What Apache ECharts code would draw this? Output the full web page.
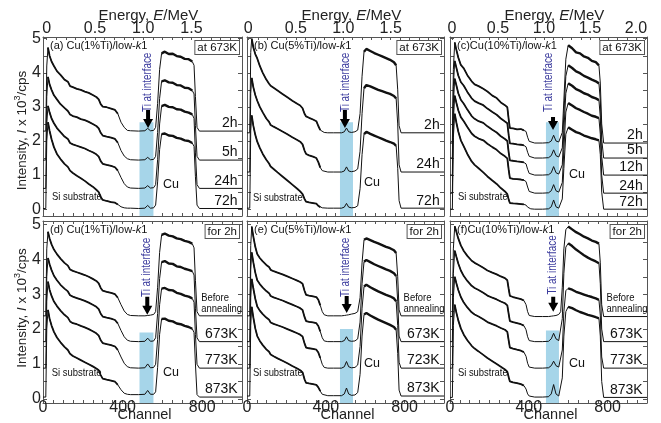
<!DOCTYPE html>
<html>
<head>
<meta charset="utf-8">
<script src="https://cdn.jsdelivr.net/npm/echarts@6/dist/echarts.min.js"></script>
<style>
html,body{margin:0;padding:0;background:#fff;}
#chart{width:661px;height:423px;}
</style>
</head>
<body>
<div id="chart"></div>
<script>
// ---- channel grids (one per column of panels) ----
const chAD = [0,14,19,25,33,43,55,70,88,108,125,136,150,170,190,210,230,250,268,280,290,300,320,342,362,376,392,408,424,440,480,512,526,540,556,566,576,586,596,612,632,652,672,692,712,732,750,759,766,774,786,1000];
const chBE = [0,14,19,24,32,42,52,65,80,98,112,120,135,155,180,205,230,255,270,282,292,300,315,335,352,362,372,382,392,410,440,480,494,505,516,530,548,562,574,584,594,606,626,646,666,686,706,726,746,757,765,772,782,1000];
const chCF = [0,12,17,24,32,42,55,70,88,110,125,145,169,190,215,237,258,279,291,298,304,320,340,360,375,386,394,402,410,430,470,500,514,526,538,552,562,570,578,588,600,620,640,660,680,700,720,740,756,763,770,780,1000];

// ---- (a) Cu(1%Ti)/low-k1, 673K ----
const a2h  = [2.29,2.29,4.2,4.74,4.5,4.33,4.2,4.05,3.94,3.80, 3.74,3.61,3.58,3.53,3.50,3.45,3.41,3.35,3.29,3.22, 3.08,3.01,2.99,2.95,2.91,2.80,2.55,2.40,2.31,2.30, 2.29,2.30,2.37,2.30,2.31,2.40,3.1,4.1,4.57,4.62, 4.55,4.56,4.49,4.47,4.41,4.40,4.33,4.22,3.3,2.4, 2.29,2.29];
const a5h  = [1.44,1.44,3.3,3.88,3.66,3.50,3.34,3.22,3.08,2.97, 2.88,2.78,2.73,2.70,2.64,2.61,2.56,2.50,2.44,2.37, 2.24,2.16,2.13,2.10,2.06,1.95,1.72,1.56,1.48,1.45, 1.44,1.45,1.52,1.45,1.46,1.55,2.25,3.25,3.75,3.78, 3.72,3.71,3.64,3.63,3.56,3.55,3.48,3.38,2.45,1.55, 1.44,1.44];
const a24h = [0.61,0.61,2.5,3.03,2.84,2.66,2.52,2.38,2.26,2.13, 2.06,1.94,1.90,1.86,1.82,1.78,1.72,1.67,1.61,1.54, 1.41,1.33,1.30,1.27,1.23,1.13,0.93,0.75,0.65,0.62, 0.61,0.62,0.69,0.62,0.63,0.72,1.45,2.5,3.02,3.06, 3.0,2.99,2.93,2.92,2.86,2.83,2.78,2.66,1.65,0.72, 0.61,0.61];
const a72h = [0.02,0.02,2.0,2.55,2.3,2.05,1.82,1.62,1.47,1.33, 1.24,1.13,1.06,0.98,0.91,0.83,0.74,0.66,0.57,0.50, 0.36,0.27,0.24,0.21,0.19,0.14,0.07,0.04,0.03,0.03, 0.02,0.03,0.11,0.03,0.04,0.12,0.8,1.75,2.2,2.22, 2.16,2.15,2.09,2.07,2.02,2.0,1.94,1.84,0.95,0.12, 0.02,0.02];

// ---- (b) Cu(5%Ti)/low-k1, 673K ----
const b2h  = [2.24,2.24,4.6,5.0,4.75,4.55,4.42,4.20,4.00,3.80, 3.68,3.62,3.56,3.48,3.38,3.28,3.18,3.09,3.04,2.96, 2.80,2.72,2.68,2.63,2.58,2.44,2.32,2.27,2.25,2.24, 2.24,2.24,2.27,2.38,2.27,2.25,2.27,2.32,2.8,3.9, 4.62,4.70,4.64,4.58,4.53,4.48,4.43,4.38,4.31,4.22, 3.5,2.45,2.24,2.24];
const b24h = [1.09,1.09,3.4,3.85,3.58,3.35,3.18,3.0,2.84,2.66, 2.56,2.47,2.42,2.36,2.28,2.20,2.11,2.03,1.98,1.90, 1.72,1.62,1.58,1.54,1.50,1.38,1.22,1.13,1.10,1.09, 1.09,1.09,1.12,1.24,1.12,1.10,1.12,1.18,1.7,2.8, 3.55,3.64,3.60,3.55,3.50,3.46,3.42,3.38,3.32,3.25, 2.5,1.3,1.09,1.09];
const b72h = [0.03,0.03,2.3,2.75,2.45,2.18,1.98,1.80,1.62,1.45, 1.34,1.25,1.18,1.08,0.96,0.84,0.72,0.60,0.52,0.44, 0.30,0.22,0.20,0.18,0.16,0.10,0.06,0.04,0.03,0.03, 0.03,0.03,0.06,0.17,0.06,0.04,0.05,0.1,0.6,1.6, 2.2,2.27,2.21,2.16,2.11,2.06,2.01,1.97,1.92,1.86, 1.2,0.25,0.03,0.03];

// ---- (c) Cu(10%Ti)/low-k1, 673K ----
const c2h  = [1.94,1.94,4.1,4.89,4.68,4.45,4.23,4.13,3.93,3.75, 3.66,3.61,3.53,3.45,3.33,3.26,3.13,3.05,2.99,2.63, 2.38,2.37,2.34,2.35,2.31,2.28,2.11,1.99,1.95,1.94, 1.94,1.95,2.0,2.17,2.0,1.97,1.99,2.25,3.2,4.4, 4.81,4.72,4.60,4.57,4.48,4.44,4.35,4.31,4.22,3.7, 2.5,1.94,1.94];
const c5h  = [1.5,1.5,3.6,4.35,4.16,3.92,3.73,3.62,3.44,3.25, 3.17,3.11,3.05,2.95,2.85,2.77,2.66,2.57,2.52,2.17, 1.93,1.92,1.90,1.89,1.87,1.83,1.67,1.55,1.51,1.5, 1.5,1.51,1.57,1.74,1.57,1.53,1.55,1.8,2.8,3.9, 4.22,4.14,4.04,3.99,3.91,3.86,3.80,3.75,3.69,3.2, 2.05,1.5,1.5];
const c12h = [1.0,1.0,3.1,3.83,3.64,3.40,3.21,3.09,2.92,2.73, 2.65,2.58,2.53,2.43,2.33,2.25,2.14,2.06,2.0,1.66, 1.43,1.42,1.40,1.39,1.37,1.33,1.17,1.05,1.01,1.0, 1.0,1.01,1.07,1.25,1.07,1.03,1.05,1.3,2.3,3.4, 3.69,3.62,3.52,3.47,3.40,3.36,3.29,3.25,3.20,2.7, 1.55,1.0,1.0];
const c24h = [0.47,0.47,2.6,3.33,3.13,2.90,2.70,2.58,2.41,2.22, 2.14,2.07,2.02,1.92,1.82,1.74,1.63,1.55,1.49,1.15, 0.91,0.89,0.88,0.87,0.85,0.81,0.65,0.52,0.48,0.47, 0.47,0.48,0.54,0.72,0.54,0.50,0.52,0.78,1.75,2.85, 3.11,3.04,2.96,2.91,2.85,2.80,2.74,2.71,2.67,2.2, 1.0,0.47,0.47];
const c72h = [0.0,0.0,2.1,2.8,2.55,2.28,2.02,1.84,1.62,1.40, 1.30,1.20,1.08,0.96,0.84,0.74,0.62,0.52,0.44,0.28, 0.18,0.17,0.16,0.15,0.14,0.12,0.06,0.02,0.01,0.0, 0.0,0.01,0.07,0.27,0.07,0.03,0.05,0.3,1.2,2.2, 2.40,2.33,2.26,2.22,2.16,2.12,2.08,2.05,2.02,1.6, 0.5,0.0,0.0];

// ---- (d) Cu(1%Ti)/low-k1, 2h anneals ----
const dBefore = [2.38,2.38,4.3,4.79,4.6,4.43,4.28,4.15,4.02,3.90, 3.82,3.71,3.67,3.63,3.59,3.55,3.50,3.44,3.38,3.31, 3.18,3.10,3.07,3.04,3.0,2.9,2.70,2.52,2.42,2.39, 2.38,2.38,2.39,2.40,2.42,2.5,3.2,4.2,4.70,4.74, 4.68,4.66,4.60,4.58,4.53,4.50,4.45,4.33,3.4,2.5, 2.38,2.38];
const d673 = [1.64,1.64,3.5,4.04,3.86,3.69,3.53,3.40,3.27,3.16, 3.08,2.97,2.93,2.89,2.85,2.81,2.76,2.70,2.64,2.57, 2.44,2.36,2.33,2.30,2.26,2.16,1.96,1.78,1.68,1.65, 1.64,1.65,1.74,1.65,1.66,1.75,2.45,3.45,3.92,3.95, 3.88,3.87,3.80,3.78,3.73,3.70,3.66,3.55,2.6,1.75, 1.64,1.64];
const d773 = [0.88,0.88,2.8,3.36,3.13,2.95,2.79,2.66,2.53,2.41, 2.33,2.22,2.17,2.14,2.09,2.05,2.0,1.94,1.88,1.81, 1.68,1.60,1.57,1.54,1.50,1.40,1.20,1.02,0.92,0.89, 0.88,0.89,1.0,0.89,0.90,0.99,1.7,2.7,3.16,3.18, 3.12,3.11,3.04,3.01,2.96,2.93,2.88,2.77,1.85,0.99, 0.88,0.88];
const d873 = [0.05,0.05,2.0,2.55,2.3,2.1,1.92,1.76,1.62,1.49, 1.40,1.29,1.23,1.17,1.11,1.05,0.99,0.93,0.87,0.82, 0.68,0.58,0.55,0.52,0.49,0.40,0.26,0.16,0.13,0.12, 0.12,0.13,0.24,0.13,0.13,0.2,0.9,1.85,2.29,2.30, 2.24,2.22,2.16,2.14,2.09,2.06,2.01,1.9,1.0,0.12, 0.05,0.05];

// ---- (e) Cu(5%Ti)/low-k1, 2h anneals ----
const eBefore = [2.38,2.38,4.4,4.94,4.66,4.36,4.15,4.04,3.94,3.84, 3.78,3.70,3.66,3.62,3.57,3.51,3.45,3.39,3.35,3.30, 3.10,2.98,2.96,2.94,2.92,2.84,2.68,2.50,2.41,2.38, 2.38,2.38,2.39,2.40,2.41,2.43,2.45,2.5,2.9,3.9, 4.56,4.60,4.55,4.50,4.46,4.41,4.36,4.32,4.26,4.18, 3.5,2.55,2.38,2.38];
const e673 = [1.64,1.64,3.7,4.2,3.92,3.62,3.40,3.29,3.19,3.09, 3.03,2.95,2.91,2.87,2.82,2.76,2.70,2.64,2.60,2.55, 2.35,2.23,2.21,2.19,2.17,2.09,1.93,1.75,1.66,1.64, 1.64,1.64,1.67,1.78,1.67,1.65,1.66,1.72,2.2,3.3, 3.93,3.98,3.92,3.86,3.81,3.76,3.71,3.67,3.60,3.52, 2.8,1.8,1.64,1.64];
const e723 = [0.88,0.88,2.9,3.44,3.17,2.87,2.65,2.53,2.43,2.33, 2.27,2.19,2.15,2.11,2.06,2.0,1.94,1.88,1.84,1.79, 1.59,1.47,1.45,1.43,1.41,1.33,1.17,0.99,0.90,0.88, 0.88,0.88,0.92,1.07,0.92,0.89,0.90,0.97,1.5,2.6, 3.22,3.27,3.20,3.14,3.08,3.03,2.98,2.94,2.88,2.80, 2.1,1.05,0.88,0.88];
const e873 = [0.08,0.08,2.1,2.64,2.34,2.02,1.80,1.66,1.54,1.42, 1.35,1.27,1.22,1.16,1.09,1.02,0.94,0.87,0.82,0.76, 0.56,0.46,0.44,0.42,0.40,0.33,0.22,0.13,0.10,0.09, 0.09,0.09,0.14,0.31,0.14,0.10,0.11,0.18,0.7,1.8, 2.42,2.46,2.39,2.33,2.27,2.22,2.17,2.12,2.06,1.98, 1.3,0.25,0.08,0.08];

// ---- (f) Cu(10%Ti)/low-k1, 2h anneals ----
const fBefore = [2.36,2.36,4.3,4.95,4.80,4.60,4.40,4.24,4.10,3.96, 3.90,3.84,3.76,3.68,3.62,3.57,3.51,3.46,3.40,3.15, 2.95,2.92,2.89,2.86,2.82,2.70,2.50,2.39,2.37,2.36, 2.36,2.36,2.37,2.38,2.39,2.42,2.5,3.2,4.3,4.85, 4.94,4.86,4.78,4.72,4.65,4.60,4.54,4.50,4.45,3.9, 2.7,2.36,2.36];
const f673 = [1.64,1.64,3.6,4.25,4.08,3.88,3.68,3.52,3.38,3.24, 3.18,3.12,3.04,2.96,2.90,2.85,2.79,2.74,2.68,2.43, 2.23,2.20,2.17,2.14,2.10,1.98,1.78,1.67,1.65,1.64, 1.64,1.65,1.72,1.88,1.72,1.67,1.70,2.3,3.6,4.35, 4.46,4.38,4.28,4.20,4.12,4.05,3.99,3.94,3.89,3.3, 2.0,1.64,1.64];
const f773 = [0.88,0.88,2.9,3.5,3.32,3.12,2.92,2.76,2.62,2.48, 2.42,2.36,2.28,2.20,2.14,2.09,2.03,1.98,1.92,1.67, 1.47,1.44,1.41,1.38,1.34,1.22,1.02,0.91,0.89,0.88, 0.88,0.89,0.95,1.08,0.95,0.91,0.93,1.4,2.5,3.1, 3.17,3.13,3.07,3.03,2.99,2.95,2.92,2.88,2.84,2.4, 1.2,0.88,0.88];
const f873 = [0.04,0.04,2.1,2.7,2.48,2.25,2.02,1.84,1.68,1.52, 1.44,1.36,1.26,1.17,1.08,1.0,0.92,0.84,0.78,0.62, 0.50,0.47,0.45,0.42,0.38,0.28,0.14,0.08,0.06,0.05, 0.05,0.06,0.14,0.41,0.14,0.08,0.1,0.6,1.8,2.5, 2.64,2.60,2.54,2.49,2.45,2.41,2.38,2.34,2.31,1.8, 0.5,0.04,0.04];

// ---- curve captions and the levels they sit on ----
const timesA = ['2h','5h','24h','72h'];
const levelsA = [2.29,1.44,0.61,0.02];
const timesB = ['2h','24h','72h'];
const levelsB = [2.24,1.09,0.03];
const timesC = ['2h','5h','12h','24h','72h'];
const levelsC = [1.94,1.5,1.0,0.47,0.0];
const tempsD = ['Before annealing','673K','773K','873K'];
const levelsD = [2.38,1.64,0.88,0.05];
const tempsE = ['Before annealing','673K','723K','873K'];
const levelsE = [2.38,1.64,0.88,0.08];
const tempsF = ['Before annealing','673K','773K','873K'];
const levelsF = [2.36,1.64,0.88,0.04];

// ---- tick labels ----
const intensityTicks = [0,1,2,3,4,5];
const channelTicks = [0,400,800];
const energyTicksAB = [0,0.5,1.0,1.5];
const energyTicksC = [0,0.5,1.0,1.5,2.0];
// energy calibration per column: channel of 0 MeV, channels per MeV
const calAD = [18.6, 485];
const calBE = [6.6, 482];
const calCF = [10, 467];

// ---- panel layout ----
const FONT = '"Liberation Sans", Arial, sans-serif';
const NARROW_SCALE = 0.82;   // horizontal squeeze for the condensed captions
const colBox = [{left:43,width:199},{left:247,width:197},{left:450,width:197}];
const rowBox = [{top:37,height:179,min:-0.2,max:5.05},{top:221,height:182,min:-0.12,max:5.1}];

const panels = [
  {row:0,col:0,ch:chAD,curves:[a2h,a5h,a24h,a72h],caps:timesA,levels:levelsA,tag:'(a) Cu(1%Ti)/low-',corner:'at 673K',
   band:[485,555,2.55],tiText:[528,3.72],arrow:[528,2.38,18],cu:[603,0.73],si:[45,0.35],cal:calAD,eTicks:energyTicksAB},
  {row:0,col:1,ch:chBE,curves:[b2h,b24h,b72h],caps:timesB,levels:levelsB,tag:'(b) Cu(5%Ti)/low-',corner:'at 673K',
   band:[472,538,2.55],tiText:[503,3.72],arrow:[497,2.38,18],cu:[594,0.78],si:[30,0.32],cal:calBE,eTicks:energyTicksAB},
  {row:0,col:2,ch:chCF,curves:[c2h,c5h,c12h,c24h,c72h],caps:timesC,levels:levelsC,tag:'(c)Cu(10%Ti)/low-',corner:'at 673K',
   band:[487,553,2.55],tiText:[500,3.72],arrow:[523,2.32,13],cu:[604,1.03],si:[40,0.35],cal:calCF,eTicks:energyTicksC},
  {row:1,col:0,ch:chAD,curves:[dBefore,d673,d773,d873],caps:tempsD,levels:levelsD,tag:'(d) Cu(1%Ti)/low-',corner:'for 2h',
   band:[485,555,1.9],tiText:[521,3.77],arrow:[524,2.41,18],cu:[603,0.76],si:[44,0.74]},
  {row:1,col:1,ch:chBE,curves:[eBefore,e673,e723,e873],caps:tempsE,levels:levelsE,tag:'(e) Cu(5%Ti)/low-',corner:'for 2h',
   band:[472,538,2.0],tiText:[503,3.77],arrow:[506,2.46,17],cu:[594,1.02],si:[30,0.74]},
  {row:1,col:2,ch:chCF,curves:[fBefore,f673,f773,f873],caps:tempsF,levels:levelsF,tag:'(f)Cu(10%Ti)/low-',corner:'for 2h',
   band:[487,553,1.96],tiText:[523,3.84],arrow:[524,2.5,15],cu:[604,1.02],si:[40,0.74]}
];

const halfSteps = [];
for (let k = 0; k <= 10; k++) halfSteps.push(k * 0.5);
const tenthSteps = [];
for (let k = 0; k <= 21; k++) tenthSteps.push(+(k * 0.1).toFixed(1));

const frame = {show:true,onZero:false,lineStyle:{color:'#555',width:1}};
const grids = [], xAxes = [], yAxes = [], series = [];
const firstSeries = [];

// keep only the points inside [lo, hi]; everything else becomes a gap
const segment = (pts, lo, hi) => pts.map(pt => (pt[0] >= lo && pt[0] <= hi) ? pt : [pt[0], '-']);

panels.forEach((p, i) => {
  const cb = colBox[p.col], rb = rowBox[p.row];
  grids.push({left:cb.left,width:cb.width,top:rb.top,height:rb.height,containLabel:false});
  // bottom: channel axis
  xAxes.push({gridIndex:i,type:'value',position:'bottom',min:0,max:1000,interval:50,
    axisLine:frame,splitLine:{show:false},
    axisTick:{show:true,inside:true,length:3,lineStyle:{color:'#555'}},
    axisLabel:{show:p.row===1,customValues:channelTicks,fontSize:16,color:'#222',fontFamily:FONT,margin:-3}});
  // top: energy axis (upper row) or plain frame
  if (p.row === 0) {
    const z = p.cal[0], k = p.cal[1];
    xAxes.push({gridIndex:i,type:'value',position:'top',min:-z/k,max:(1000-z)/k,
      axisLine:frame,splitLine:{show:false},
      axisTick:{show:true,inside:true,length:3,customValues:tenthSteps,lineStyle:{color:'#555'}},
      axisLabel:{show:true,customValues:p.eTicks,fontSize:16,color:'#222',fontFamily:FONT,margin:0,
        formatter:v => v === 0 ? '0' : v.toFixed(1)}});
  } else {
    xAxes.push({gridIndex:i,type:'value',position:'top',min:0,max:1000,interval:50,
      axisLine:frame,splitLine:{show:false},
      axisTick:{show:true,inside:true,length:3,lineStyle:{color:'#555'}},axisLabel:{show:false}});
  }
  yAxes.push({gridIndex:i,type:'value',position:'left',min:rb.min,max:rb.max,
    axisLine:frame,splitLine:{show:false},
    axisTick:{show:true,inside:true,length:4,customValues:halfSteps,lineStyle:{color:'#555'}},
    axisLabel:{show:p.col===0,customValues:intensityTicks,fontSize:16,color:'#222',fontFamily:FONT,margin:2}});
  yAxes.push({gridIndex:i,type:'value',position:'right',min:rb.min,max:rb.max,
    axisLine:frame,splitLine:{show:false},
    axisTick:{show:true,inside:true,length:4,customValues:halfSteps,lineStyle:{color:'#555'}},
    axisLabel:{show:false}});

  // Ti interface band
  series.push({type:'line',xAxisIndex:2*i,yAxisIndex:2*i,data:[],silent:true,z:1,
    markArea:{silent:true,itemStyle:{color:'#a6d5e9'},
      data:[[{xAxis:p.band[0],yAxis:rb.min},{xAxis:p.band[1],yAxis:p.band[2]}]]}});

  p.curves.forEach((vals, j) => {
    const pts = p.ch.map((c, n) => [c, vals[n]]);
    if (j === 0) firstSeries.push(series.length);
    series.push({type:'line',xAxisIndex:2*i,yAxisIndex:2*i,data:pts,symbol:'none',silent:true,z:3,
      lineStyle:{color:'#111',width:1}});
    // heavier strokes over the counting-noise regions: substrate slope and Cu plateau
    series.push({type:'line',xAxisIndex:2*i,yAxisIndex:2*i,data:segment(pts,24,380),symbol:'none',silent:true,z:3,
      connectNulls:false,lineStyle:{color:'#111',width:1.8}});
    series.push({type:'line',xAxisIndex:2*i,yAxisIndex:2*i,data:segment(pts,594,758),symbol:'none',silent:true,z:3,
      connectNulls:false,lineStyle:{color:'#111',width:2.4}});
  });
});

const chart = echarts.init(document.getElementById('chart'), null, {renderer:'canvas'});
chart.setOption({animation:false,grid:grids,xAxis:xAxes,yAxis:yAxes,series:series});

// ---- annotations ----
const g = [];
const toPx = (i, ch, v) => chart.convertToPixel({seriesIndex:firstSeries[i]}, [ch, v]);

panels.forEach((p, i) => {
  const cb = colBox[p.col], rb = rowBox[p.row];
  const right = cb.left + cb.width;
  // panel tag
  g.push({type:'text',x:cb.left+7,y:rb.top+9,z:10,style:{
    text:'{n|' + p.tag + '}{i|k}{n|1}',verticalAlign:'middle',align:'left',
    rich:{n:{fontSize:11,fontFamily:FONT,fill:'#111'},i:{fontSize:11,fontStyle:'italic',fontFamily:FONT,fill:'#111'}}}});
  // corner box
  g.push({type:'text',x:right-3,y:rb.top+4,z:10,style:{
    text:p.corner,align:'right',verticalAlign:'top',fontSize:11.5,fontFamily:FONT,fill:'#111',
    backgroundColor:'#fff',borderColor:'#555',borderWidth:1,padding:[1,2,0,2]}});
  // curve captions
  p.caps.forEach((cap, j) => {
    const lv = p.levels[j];
    if (cap === 'Before annealing') {
      const q = toPx(i, 795, lv);
      g.push({type:'text',x:q[0],y:q[1]-2,scaleX:NARROW_SCALE,z:10,style:{text:'Before\nannealing',align:'left',verticalAlign:'bottom',
        fontSize:11.5,lineHeight:11,fontFamily:FONT,fill:'#111'}});
    } else {
      const q = toPx(i, 978, lv);
      g.push({type:'text',x:q[0],y:q[1]-0.5,z:10,style:{text:cap,align:'right',verticalAlign:'bottom',
        fontSize:14,fontFamily:FONT,fill:'#111'}});
    }
  });
  // Cu and Si substrate captions
  let q = toPx(i, p.cu[0], p.cu[1]);
  g.push({type:'text',x:q[0],y:q[1],z:10,style:{text:'Cu',align:'left',verticalAlign:'middle',fontSize:12.5,fontFamily:FONT,fill:'#111'}});
  q = toPx(i, p.si[0], p.si[1]);
  g.push({type:'text',x:q[0],y:q[1],scaleX:NARROW_SCALE,z:10,style:{text:'Si substrate',align:'left',verticalAlign:'middle',fontSize:11.5,fontFamily:FONT,fill:'#111'}});
  // Ti marker text
  q = toPx(i, p.tiText[0], p.tiText[1]);
  g.push({type:'text',x:q[0],y:q[1],rotation:Math.PI/2,scaleX:NARROW_SCALE,z:10,style:{text:'Ti at interface',align:'center',verticalAlign:'middle',
    fontSize:12,fontFamily:FONT,fill:'#3d3d9e'}});
  // arrow
  const t = toPx(i, p.arrow[0], p.arrow[1]);
  const L = p.arrow[2], tx = t[0], ty = t[1];
  g.push({type:'polygon',z:10,shape:{points:[[tx-2,ty-L],[tx+2,ty-L],[tx+2,ty-9],[tx+5,ty-9],[tx,ty],[tx-5,ty-9],[tx-2,ty-9]]},
    style:{fill:'#000'}});
  // axis titles
  if (p.row === 0) {
    g.push({type:'text',x:cb.left+cb.width*0.53,y:16,z:10,style:{
      text:'{n|Energy, }{i|E}{n|/MeV}',align:'center',verticalAlign:'middle',
      rich:{n:{fontSize:15,fontFamily:FONT,fill:'#222'},i:{fontSize:15,fontStyle:'italic',fontFamily:FONT,fill:'#222'}}}});
  } else {
    g.push({type:'text',x:cb.left+cb.width*0.51,y:415,z:10,style:{
      text:'Channel',align:'center',verticalAlign:'middle',fontSize:14.5,fontFamily:FONT,fill:'#222'}});
  }
  if (p.col === 0) {
    g.push({type:'text',x:21,y:rb.top+rb.height/2 + (p.row === 0 ? 4 : -4),rotation:Math.PI/2,z:10,style:{
      text:'{n|Intensity, }{i|I}{n| x 10}{s|3}{n|/cps}',align:'center',verticalAlign:'middle',
      rich:{n:{fontSize:13.5,fontFamily:FONT,fill:'#222',lineHeight:16,verticalAlign:'bottom'},
            i:{fontSize:13.5,fontStyle:'italic',fontFamily:FONT,fill:'#222',lineHeight:16,verticalAlign:'bottom'},
            s:{fontSize:9,fontFamily:FONT,fill:'#222',lineHeight:16,verticalAlign:'top'}}}});
  }
});

chart.setOption({graphic:{elements:g}});
</script>
</body>
</html>
